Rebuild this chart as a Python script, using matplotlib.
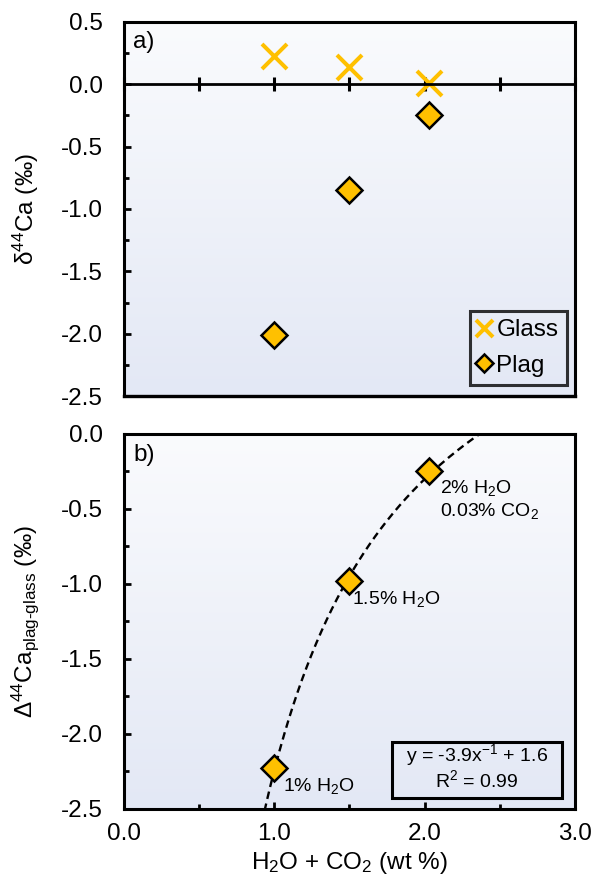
import numpy as np
import matplotlib
matplotlib.use("Agg")
import matplotlib.pyplot as plt
from matplotlib.colors import LinearSegmentedColormap
from matplotlib.patches import Rectangle
from matplotlib.ticker import MultipleLocator, FormatStrFormatter

# ---- data -------------------------------------------------------------
volatiles = [1.0, 1.5, 2.03]                 # H2O + CO2 (wt %)
glass_d44 = [0.23, 0.14, 0.01]               # d44Ca glass (permil)
plag_d44 = [-2.01, -0.85, -0.25]             # d44Ca plagioclase (permil)
plag_glass_D44 = [-2.23, -0.98, -0.25]       # D44Ca plag-glass (permil)
point_labels = ["1% H$_2$O", "1.5% H$_2$O", "2% H$_2$O\n0.03% CO$_2$"]
r2_text = "0.99"

# ---- style ------------------------------------------------------------
plt.rcParams["font.family"] = ["Liberation Sans", "DejaVu Sans"]
plt.rcParams["mathtext.fontset"] = "custom"
plt.rcParams["mathtext.rm"] = "Liberation Sans"
plt.rcParams["mathtext.it"] = "Liberation Sans:italic"
plt.rcParams["mathtext.bf"] = "Liberation Sans:bold"
plt.rcParams["axes.unicode_minus"] = False

FS = 17.5
FS_SMALL = 14
GOLD = "#FFC000"
SPINE_LW = 2.2

bg_cmap = LinearSegmentedColormap.from_list("bg", ["#E3E8F5", "#FAFBFD"])


def add_gradient(ax):
    g = np.linspace(0, 1, 256).reshape(-1, 1)
    ax.imshow(g, cmap=bg_cmap, extent=(0, 1, 0, 1), transform=ax.transAxes,
              aspect="auto", origin="lower", zorder=0, interpolation="bicubic")


def style_frame(ax):
    for s in ax.spines.values():
        s.set_linewidth(SPINE_LW)
        s.set_color("black")
        s.set_zorder(6)


fig = plt.figure(figsize=(5.92, 8.81), dpi=100)
ax1 = fig.add_axes([0.20946, 0.55051, 0.76182, 0.42452])
ax2 = fig.add_axes([0.20946, 0.08173, 0.76182, 0.42565])

# ---- panel a ------------------------------------------------------------
add_gradient(ax1)
ax1.plot(volatiles, glass_d44, ls="none", marker="x", ms=18, mew=2.9,
         color=GOLD, label="Glass", zorder=5)
ax1.plot(volatiles, plag_d44, ls="none", marker="D", ms=13, mfc=GOLD,
         mec="black", mew=1.8, label="Plag", zorder=5)
ax1.set_xlim(0, 3)
ax1.set_ylim(-2.5, 0.5)
style_frame(ax1)
# x axis crosses at zero; the frame is closed with a separate line
ax1.spines["bottom"].set_position(("data", 0))
ax1.spines["bottom"].set_linewidth(2.0)
ax1.plot([0, 1], [0, 0], transform=ax1.transAxes, color="black",
         lw=SPINE_LW * 1.1, clip_on=False, zorder=6)
ax1.xaxis.set_major_locator(MultipleLocator(0.5))
ax1.tick_params(axis="x", direction="inout", length=10, width=2.2,
                labelbottom=False)
ax1.yaxis.set_major_locator(MultipleLocator(0.5))
ax1.yaxis.set_minor_locator(MultipleLocator(0.25))
ax1.yaxis.set_major_formatter(FormatStrFormatter("%.1f"))
ax1.tick_params(axis="y", which="major", direction="in", length=5, width=2,
                labelsize=FS, pad=15)
ax1.tick_params(axis="y", which="minor", direction="in", length=3.5, width=2)
ax1.set_ylabel("δ$^{44}$Ca (‰)", fontsize=FS)
ax1.yaxis.set_label_coords(-0.185, 0.5)
ax1.text(0.02, 0.947, "a)", transform=ax1.transAxes, fontsize=FS,
         ha="left", va="center", zorder=7)
leg = ax1.legend(loc="lower right", bbox_to_anchor=(0.982, 0.029),
                 frameon=True, fancybox=False, edgecolor="black",
                 facecolor="none", handlelength=0.45, handletextpad=0.3,
                 borderpad=0.35, labelspacing=0.55, borderaxespad=0,
                 markerscale=0.68, fontsize=FS)
leg.get_frame().set_linewidth(2.2)
leg.set_zorder(8)

# ---- panel b ------------------------------------------------------------
add_gradient(ax2)
x = np.asarray(volatiles)
y = np.asarray(plag_glass_D44)
# least-squares fit of y = a / x + b
A = np.vstack([1.0 / x, np.ones_like(x)]).T
(a_fit, b_fit), *_ = np.linalg.lstsq(A, y, rcond=None)
xc = np.linspace(0.9, 2.6, 400)
ax2.plot(xc, a_fit / xc + b_fit, color="black", lw=1.7,
         ls=(0, (3.2, 2.0)), zorder=3)
ax2.plot(x, y, ls="none", marker="D", ms=13, mfc=GOLD, mec="black",
         mew=1.8, zorder=5)

offsets = [(6, -12.5), (2, -13), (8, -5)]
vas = ["center", "center", "top"]
for xi, yi, lab, off, va in zip(x, y, point_labels, offsets, vas):
    ax2.annotate(lab, (xi, yi), xytext=off, textcoords="offset points",
                 fontsize=FS_SMALL, ha="left", va=va, linespacing=1.15,
                 zorder=7)

ax2.set_xlim(0, 3)
ax2.set_ylim(-2.5, 0)
style_frame(ax2)
ax2.xaxis.set_major_locator(MultipleLocator(1.0))
ax2.xaxis.set_minor_locator(MultipleLocator(0.5))
ax2.xaxis.set_major_formatter(FormatStrFormatter("%.1f"))
ax2.yaxis.set_major_locator(MultipleLocator(0.5))
ax2.yaxis.set_minor_locator(MultipleLocator(0.25))
ax2.yaxis.set_major_formatter(FormatStrFormatter("%.1f"))
ax2.tick_params(axis="both", which="major", direction="in", length=5,
                width=2, labelsize=FS)
ax2.tick_params(axis="both", which="minor", direction="in", length=3.5,
                width=2)
ax2.tick_params(axis="y", pad=15)
ax2.tick_params(axis="x", pad=10)
ax2.set_ylabel("Δ$^{44}$Ca$_{\\mathrm{plag\u2010glass}}$ (‰)", fontsize=FS)
ax2.yaxis.set_label_coords(-0.185, 0.5)
ax2.set_xlabel("H$_2$O + CO$_2$ (wt %)", fontsize=FS)
ax2.xaxis.set_label_coords(0.5, -0.109)
ax2.text(0.02, 0.944, "b)", transform=ax2.transAxes, fontsize=FS,
         ha="left", va="center", zorder=7)

# fit equation box
ax2.add_patch(Rectangle((0.594, 0.029), 0.377, 0.150, transform=ax2.transAxes,
                        fill=False, edgecolor="black", lw=2.2, zorder=7))
ax2.text(0.783, 0.144, f"y = {a_fit:.1f}x$^{{-1}}$ + {b_fit:.1f}",
         transform=ax2.transAxes, fontsize=FS_SMALL, ha="center",
         va="center", zorder=8)
ax2.text(0.783, 0.077, f"R$^2$ = {r2_text}", transform=ax2.transAxes,
         fontsize=FS_SMALL, ha="center", va="center", zorder=8)

fig.savefig("out.png", dpi=100)
